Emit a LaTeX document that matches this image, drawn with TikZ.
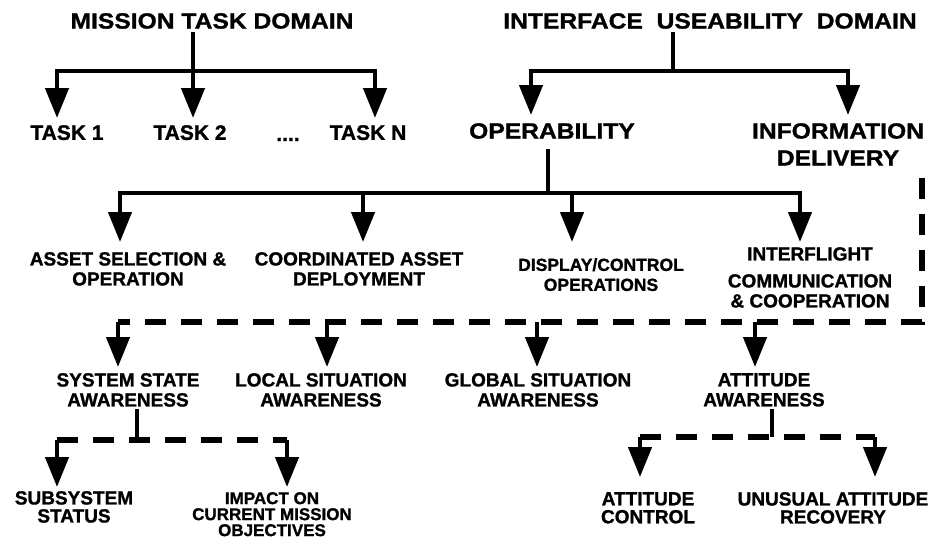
\documentclass[tikz,border=0pt]{standalone}
\usepackage{fontspec}
\setmainfont{Liberation Sans}[BoldFeatures={FakeBold=1.2}]
\newfontfamily\anchafont{Liberation Sans}[FakeStretch=1.12, BoldFeatures={FakeBold=1.2}]
\usetikzlibrary{arrows.meta}
\begin{document}
\begin{tikzpicture}[x=1pt, y=-1pt,
    etiq/.style={inner sep=0pt, anchor=north, align=center,
      font=\fontsize{19}{20}\selectfont\bfseries},
    titulo/.style={etiq, font=\fontsize{22}{27}\selectfont\anchafont\bfseries},
    tarea/.style={etiq, font=\fontsize{21}{24}\selectfont\bfseries},
    linea/.style={line width=4.5pt},
    discont/.style={line width=6pt, dash pattern=on 21pt off 15pt},
    flecha/.style={line width=4.5pt, -{Triangle[length=30pt, width=23pt]}, shorten >=#1},
    flecha/.default=6pt]
  \useasboundingbox (0,0) rectangle (936,541);
  % Dominio de tareas
  \node[titulo] (mtd) at (212,13) {MISSION TASK DOMAIN};
  \node[tarea] (task1) at (67,125) {TASK 1};
  \node[tarea] (task2) at (190,125) {TASK 2};
  \node[tarea, anchor=base] (dots) at (288,141) {....};
  \node[tarea] (taskN) at (368,125) {TASK N};
  \coordinate (mj) at (193,71);
  \coordinate (m1) at (57,71);
  \coordinate (mN) at (375,71);
  \draw[linea, shorten <=3pt] (mtd.south -| mj) -- (mj);
  \draw[flecha=7pt] (mj) -- (m1) -- (m1 |- task1.north);
  \draw[flecha=7pt] (mj) -- (mj |- task2.north);
  \draw[flecha=7pt] (mj) -- (mN) -- (mN |- taskN.north);
  % Dominio de usabilidad
  \node[titulo] (iud) at (710,13) {INTERFACE~~USEABILITY~~DOMAIN};
  \node[titulo] (oper) at (552,123) {OPERABILITY};
  \node[titulo] (info) at (838,123) {INFORMATION\\DELIVERY};
  \coordinate (ij) at (673,71);
  \coordinate (i1) at (531,71);
  \coordinate (i2) at (848,71);
  \draw[linea, shorten <=3pt] (iud.south -| ij) -- (ij);
  \draw[flecha=8pt] (ij) -- (i1) -- (i1 |- oper.north);
  \draw[flecha=8pt] (ij) -- (i2) -- (i2 |- info.north);
  % Operabilidad
  \node[etiq] (asel) at (128,252) {ASSET SELECTION \&\\OPERATION};
  \node[etiq] (cad) at (359,252) {COORDINATED ASSET\\DEPLOYMENT};
  \node[etiq, font=\fontsize{17.5}{20}\selectfont\bfseries] (dco) at (601,258) {DISPLAY/CONTROL\\OPERATIONS};
  \node[etiq] (ifc) at (810,247) {INTERFLIGHT\\[7pt]COMMUNICATION\\\& COOPERATION};
  \coordinate (oj) at (548,193);
  \coordinate (o1) at (120,193);
  \coordinate (o2) at (363,193);
  \coordinate (o3) at (572,193);
  \coordinate (o4) at (800,193);
  \draw[linea, shorten <=10pt] (oper.south -| oj) -- (oj);
  \draw[flecha=10pt] (oj) -- (o1) -- (o1 |- asel.north);
  \draw[flecha=10pt] (oj) -- (o2) -- (o2 |- cad.north);
  \draw[flecha=16pt] (oj) -- (o3) -- (o3 |- dco.north);
  \draw[flecha=5pt] (oj) -- (o4) -- (o4 |- ifc.north);
  % Entrega de informacion (discontinua)
  \node[etiq] (ssa) at (128,373) {SYSTEM STATE\\AWARENESS};
  \node[etiq] (lsa) at (321,373) {LOCAL SITUATION\\AWARENESS};
  \node[etiq] (gsa) at (538,373) {GLOBAL SITUATION\\AWARENESS};
  \node[etiq] (aa) at (764,373) {ATTITUDE\\AWARENESS};
  \coordinate (dj) at (922,322);
  \coordinate (d1) at (118,322);
  \coordinate (d2) at (327,322);
  \coordinate (d3) at (537,322);
  \coordinate (d4) at (755,322);
  \draw[discont, shorten <=12pt] (info.south -| dj) -- (dj) -- (d1);
  \draw[flecha] (d1) -- (d1 |- ssa.north);
  \draw[flecha] (d2) -- (d2 |- lsa.north);
  \draw[flecha] (d3) -- (d3 |- gsa.north);
  \draw[flecha] (d4) -- (d4 |- aa.north);
  % Estado del sistema
  \node[etiq, font=\fontsize{19}{18}\selectfont\bfseries] (sub) at (74,491) {SUBSYSTEM\\STATUS};
  \node[etiq, font=\fontsize{17}{16}\selectfont\bfseries] (imp) at (272,492) {IMPACT ON\\CURRENT MISSION\\OBJECTIVES};
  \coordinate (sj) at (137,440);
  \coordinate (s1) at (57,440);
  \coordinate (s2) at (287,440);
  \draw[linea, shorten <=2pt] (ssa.south -| sj) -- (sj);
  \draw[discont] (s1) -- (s2);
  \draw[flecha=4pt] (s1) -- (s1 |- sub.north);
  \draw[flecha=5pt] (s2) -- (s2 |- imp.north);
  % Actitud
  \node[etiq, font=\fontsize{19}{18}\selectfont\bfseries] (ac) at (648,492) {ATTITUDE\\CONTROL};
  \node[etiq, font=\fontsize{19}{18}\selectfont\bfseries] (uar) at (833,492) {UNUSUAL ATTITUDE\\RECOVERY};
  \coordinate (aj) at (772,437);
  \coordinate (a1) at (640,437);
  \coordinate (a2) at (875,437);
  \draw[linea, shorten <=2pt] (aa.south -| aj) -- (aj);
  \draw[discont] (a1) -- (a2);
  \draw[flecha=15pt] (a1) -- (a1 |- ac.north);
  \draw[flecha=15pt] (a2) -- (a2 |- uar.north);
\end{tikzpicture}
\end{document}
